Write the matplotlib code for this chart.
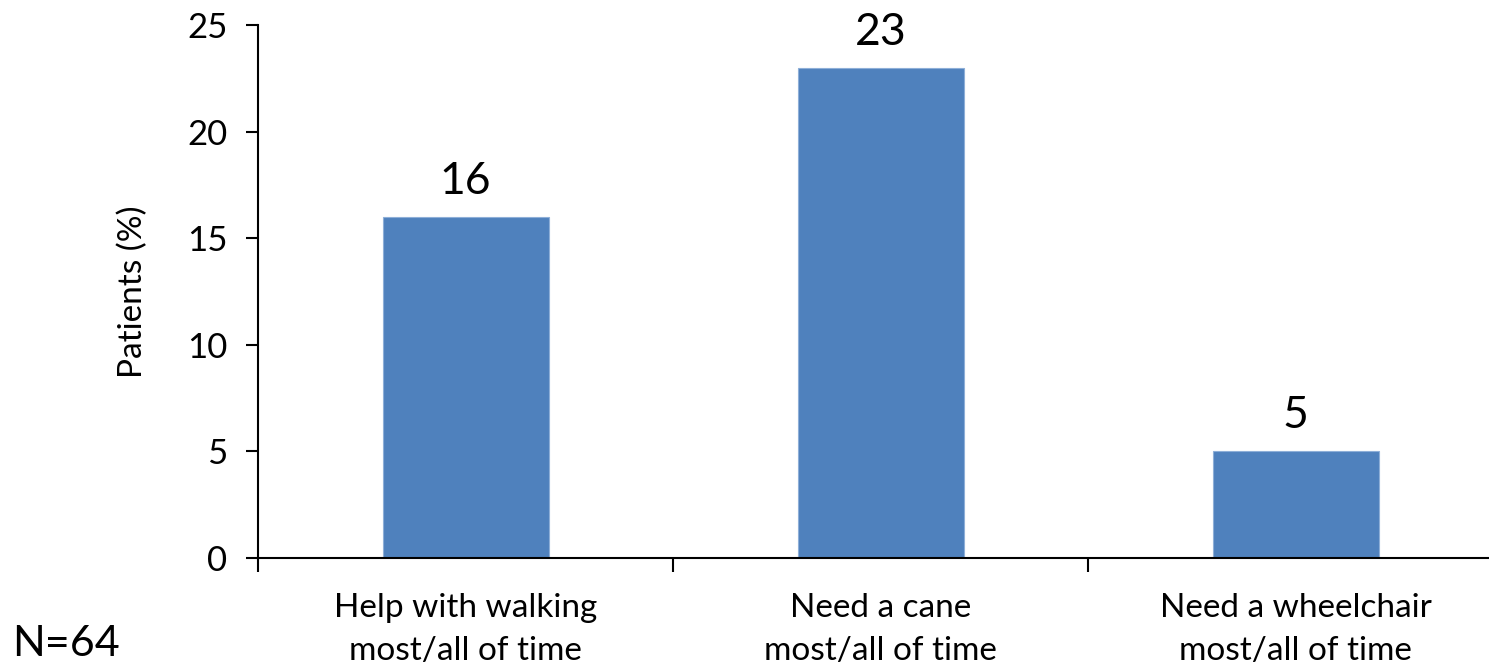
import matplotlib.pyplot as plt

categories = ['Help with walking\nmost/all of time',
              'Need a cane\nmost/all of time',
              'Need a wheelchair\nmost/all of time']
values = [16, 23, 5]
y_ticks = [0, 5, 10, 15, 20, 25]

plt.rcParams['font.family'] = ['Lato', 'DejaVu Sans']

fig = plt.figure(figsize=(14.89, 6.67), dpi=100)
ax = fig.add_axes([258 / 1489, 109 / 667, 1245 / 1489, 533 / 667])

xs = range(len(values))
ax.bar(xs, values, width=0.4, color='#4F81BD', edgecolor='#8EAFD8', linewidth=0.8)
for x, v in zip(xs, values):
    ax.text(x, v + 0.7, str(v), ha='center', va='bottom', fontsize=32)

ax.set_xlim(-0.5, 2.5)
ax.set_ylim(0, 25)
ax.set_yticks(y_ticks)
ax.set_xticks([-0.5, 0.5, 1.5])
ax.set_xticklabels([])
ax.set_xticks(list(xs), minor=True)
ax.set_xticklabels(categories, minor=True, fontsize=24, linespacing=1.55)
ax.tick_params(axis='x', which='minor', length=0, pad=25)
ax.tick_params(axis='x', which='major', length=10, width=1.5, direction='out')
ax.tick_params(axis='y', length=9, width=1.5, direction='out', labelsize=25, pad=13)

for side in ['top', 'right']:
    ax.spines[side].set_visible(False)
ax.spines['left'].set_linewidth(1.5)
ax.spines['bottom'].set_linewidth(1.5)

ax.set_ylabel('Patients (%)', fontsize=24, labelpad=28)

fig.text(12 / 1489, 4 / 667, 'N=64', fontsize=31, ha='left', va='bottom')

fig.savefig('out.png', dpi=100)
